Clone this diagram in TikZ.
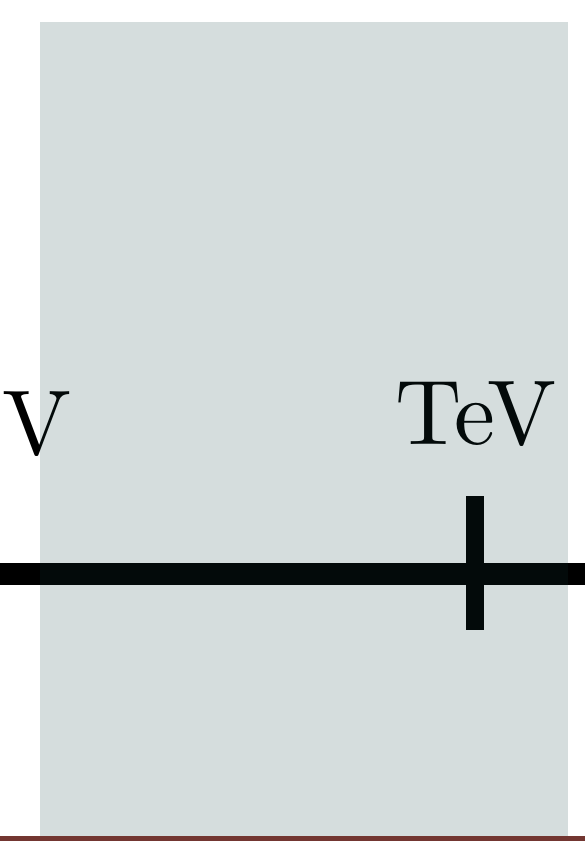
\documentclass[tikz,border=0pt]{standalone}
\usepackage{fontspec}
\usepackage{tikz}
\usetikzlibrary{positioning}
\newfontfamily\labelfont{lmroman10-regular}[Extension=.otf]
\definecolor{axisblack}{RGB}{0,0,0}
\definecolor{panelteal}{RGB}{17,62,62}
\definecolor{rulered}{RGB}{115,54,49}

\begin{document}
\begin{tikzpicture}[
        x=1pt, y=1pt,
        label/.style={anchor=base, inner sep=0pt, font=\labelfont\fontsize{92}{92}\selectfont},
        axis/.style={draw=axisblack, line width=22pt},
        tick/.style={draw=axisblack, line width=18.5pt},
        panel/.style={fill=panelteal, fill opacity=0.176, draw=none}
    ]
        \useasboundingbox (0,0) rectangle (585,841);

        % Axis and tick
        \coordinate (axisL) at (0,267);
        \coordinate (axisR) at (585,267);
        \coordinate (tickB) at (475,211);
        \coordinate (tickT) at (475,345);
        \draw[axis] (axisL) -- (axisR);
        \draw[tick] (tickB) -- (tickT);

        % Labels
        \node[label] (gev) at (36.5,386) {V};
        \node[label] (tev) at (476,396) {TeV};

        % Shaded band
        \fill[panel] (40,5) rectangle (568,819);

        % Bottom rule
        \fill[rulered] (0,0) rectangle (585,5);
    \end{tikzpicture}
\end{document}
